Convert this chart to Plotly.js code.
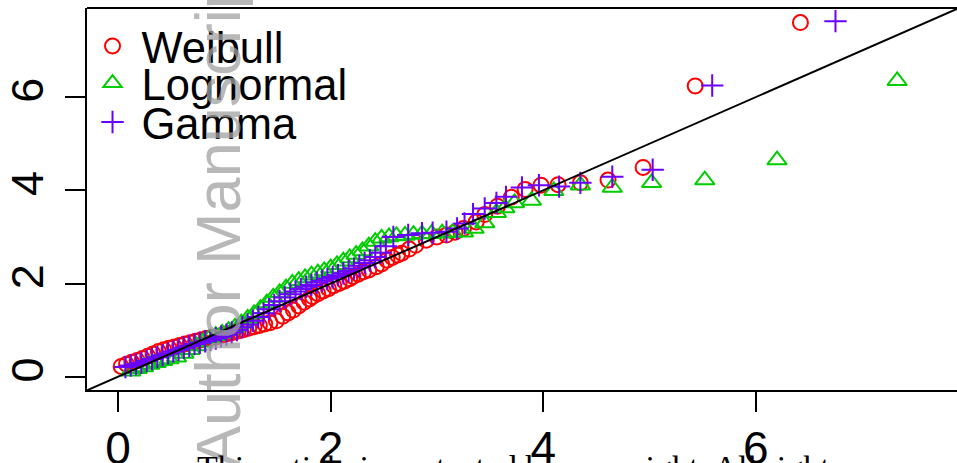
<!DOCTYPE html>
<html>
<head>
<meta charset="utf-8">
<script src="https://cdn.plot.ly/plotly-3.0.1.min.js"></script>
<style>html,body{margin:0;padding:0;background:#fff;overflow:hidden}</style>
</head>
<body>
<div id="chart" style="width:957px;height:463px"></div>
<script>
// ---- data ----
const seriesNames = ['Weibull', 'Lognormal', 'Gamma'];

const weibullX = [0.03,0.08,0.13,0.18,0.23,0.28,0.33,0.38,0.43,0.48,0.53,0.58,0.63,0.68,0.73,0.78,0.83,0.88,0.93,0.98,
  1.03,1.08,1.13,1.18,1.23,1.28,1.33,1.38,1.43,1.49,1.55,1.60,1.65,1.70,1.75,1.80,1.83,1.88,1.93,1.98,
  2.03,2.08,2.13,2.18,2.21,2.26,2.31,2.36,2.43,2.48,2.53,2.58,2.63,2.67,2.74,2.80,2.90,3.00,3.09,3.17,
  3.25,3.37,3.45,3.57,3.70,3.83,3.98,4.14,4.35,4.61,4.94,5.43,6.42];
const weibullY = [0.22,0.27,0.31,0.35,0.39,0.44,0.49,0.54,0.58,0.61,0.64,0.67,0.70,0.73,0.76,0.79,0.82,0.84,0.86,0.89,
  0.92,0.95,0.98,1.01,1.04,1.07,1.10,1.13,1.16,1.20,1.30,1.37,1.43,1.52,1.60,1.67,1.72,1.78,1.84,1.89,
  1.95,2.00,2.05,2.10,2.15,2.20,2.25,2.29,2.36,2.42,2.50,2.56,2.61,2.65,2.74,2.82,2.93,3.00,3.04,3.10,
  3.18,3.32,3.48,3.66,3.85,4.02,4.11,4.12,4.16,4.22,4.49,6.24,7.60];

const lognormalX = [0.12,0.18,0.24,0.30,0.36,0.42,0.48,0.55,0.62,0.68,0.74,0.80,0.86,0.92,0.98,1.04,1.10,1.16,1.22,1.28,
  1.34,1.40,1.46,1.52,1.58,1.64,1.70,1.76,1.82,1.88,1.94,2.00,2.06,2.12,2.18,2.24,2.30,2.36,2.42,2.48,
  2.55,2.62,2.70,2.78,2.86,2.95,3.05,3.15,3.25,3.35,3.45,3.56,3.64,3.73,3.89,4.10,4.35,4.65,5.02,5.52,
  6.20,7.33];
const lognormalY = [0.12,0.17,0.21,0.26,0.30,0.34,0.38,0.42,0.50,0.58,0.66,0.74,0.82,0.88,0.93,0.99,1.06,1.15,1.25,1.35,
  1.46,1.58,1.70,1.80,1.90,2.00,2.06,2.12,2.18,2.22,2.27,2.33,2.40,2.48,2.55,2.62,2.70,2.80,2.90,2.97,
  3.00,3.02,3.03,3.05,3.06,3.07,3.08,3.09,3.10,3.18,3.30,3.52,3.62,3.73,3.78,3.99,4.11,4.06,4.16,4.22,
  4.65,6.35];

const gammaX = [0.07,0.12,0.17,0.22,0.27,0.32,0.37,0.42,0.47,0.52,0.57,0.62,0.67,0.72,0.77,0.82,0.87,0.92,0.97,1.02,
  1.07,1.12,1.17,1.22,1.27,1.32,1.37,1.42,1.47,1.52,1.57,1.62,1.67,1.72,1.77,1.82,1.87,1.92,1.97,2.02,
  2.07,2.12,2.17,2.22,2.27,2.32,2.37,2.42,2.47,2.52,2.59,2.73,2.86,2.96,3.09,3.19,3.26,3.34,3.45,3.56,
  3.65,3.80,3.96,4.15,4.35,4.65,5.03,5.59,6.75];
const gammaY = [0.21,0.24,0.27,0.30,0.34,0.38,0.42,0.46,0.50,0.54,0.58,0.62,0.66,0.70,0.73,0.76,0.79,0.82,0.86,0.90,
  0.95,1.00,1.06,1.12,1.20,1.28,1.36,1.45,1.54,1.62,1.70,1.77,1.83,1.88,1.93,1.97,2.02,2.06,2.10,2.14,
  2.18,2.22,2.27,2.32,2.38,2.44,2.50,2.57,2.66,2.80,3.00,3.04,3.08,3.09,3.11,3.18,3.29,3.49,3.61,3.73,
  3.86,4.06,4.11,4.08,4.16,4.29,4.44,6.25,7.63];

const identityLine = [-1, 10];   // reference line y = x
const xTicks = [0, 2, 4, 6];
const yTicks = [0, 2, 4, 6];

const watermark = 'Author Manuscript';
const footer = 'This article is protected by copyright. All rights reserved';

// ---- styling ----
const RFONT = '"Liberation Sans Narrow", "Liberation Sans", Arial, sans-serif';
const colors = ['#ff0000', '#00cd00', '#6a00ff'];
const symbols = ['circle-open', 'triangle-up-open', 'cross-thin-open'];
const sizes = [15, 17, 16];
const xs = [weibullX, lognormalX, gammaX];
const ys = [weibullY, lognormalY, gammaY];
const legendIds = ['legend', 'legend2', 'legend3'];

const traces = seriesNames.map((name, i) => ({
  type: 'scatter', mode: 'markers', name: name,
  x: xs[i], y: ys[i],
  legend: legendIds[i],
  marker: {symbol: symbols[i], size: sizes[i], color: colors[i],
           line: {color: colors[i], width: 2}},
  hoverinfo: 'x+y'
}));
traces.push({
  type: 'scatter', mode: 'lines', x: identityLine, y: identityLine,
  line: {color: '#000', width: 2}, showlegend: false, hoverinfo: 'skip'
});

function legendAt(yPaper) {
  return {x: -0.004, xanchor: 'left', y: yPaper, yanchor: 'middle',
          bgcolor: 'rgba(0,0,0,0)', borderwidth: 0,
          font: {family: RFONT, size: 43.5, color: '#000'}, itemwidth: 48};
}

const layout = {
  width: 957, height: 463,
  margin: {l: 87, r: 0, t: 8, b: 73, pad: 0},
  paper_bgcolor: '#fff', plot_bgcolor: '#fff',
  showlegend: true,
  legend: legendAt(0.900),
  legend2: legendAt(0.803),
  legend3: legendAt(0.701),
  xaxis: {
    range: [-0.2916, 7.893], tickvals: xTicks, ticktext: xTicks.map(String),
    showgrid: false, zeroline: false, showline: true, linecolor: '#000', linewidth: 2,
    ticks: 'outside', ticklen: 20, tickwidth: 2, tickcolor: '#000',
    tickfont: {family: RFONT, size: 46, color: '#000'}, ticklabelstandoff: -3
  },
  yaxis: {
    range: [-0.285, 7.912], tickvals: yTicks, ticktext: yTicks.map(String),
    showgrid: false, zeroline: false, showline: true, linecolor: '#000', linewidth: 2,
    ticks: 'outside', ticklen: 20, tickwidth: 2, tickcolor: '#000', tickangle: -90,
    tickfont: {family: RFONT, size: 45, color: '#000'}, ticklabelstandoff: 4
  },
  shapes: [{type: 'line', xref: 'paper', yref: 'paper', x0: 0, x1: 1, y0: 1, y1: 1,
            line: {color: '#000', width: 2}}],
  annotations: [
    {text: watermark, xref: 'paper', yref: 'paper', x: (218 - 87) / 870, y: (390 - 212) / 382,
     xanchor: 'center', yanchor: 'middle', showarrow: false, textangle: -90,
     font: {family: '"Liberation Sans", Arial, sans-serif', size: 63, color: 'rgba(160,160,160,0.75)'}},
    {text: footer, xref: 'paper', yref: 'paper', x: (195 - 87) / 870, y: (390 - 467) / 382,
     xanchor: 'left', yanchor: 'middle', showarrow: false,
     font: {family: '"Liberation Serif", "DejaVu Serif", serif', size: 34, color: '#000'}}
  ]
};

Plotly.newPlot('chart', traces, layout, {displayModeBar: false, staticPlot: true});
</script>
</body>
</html>
